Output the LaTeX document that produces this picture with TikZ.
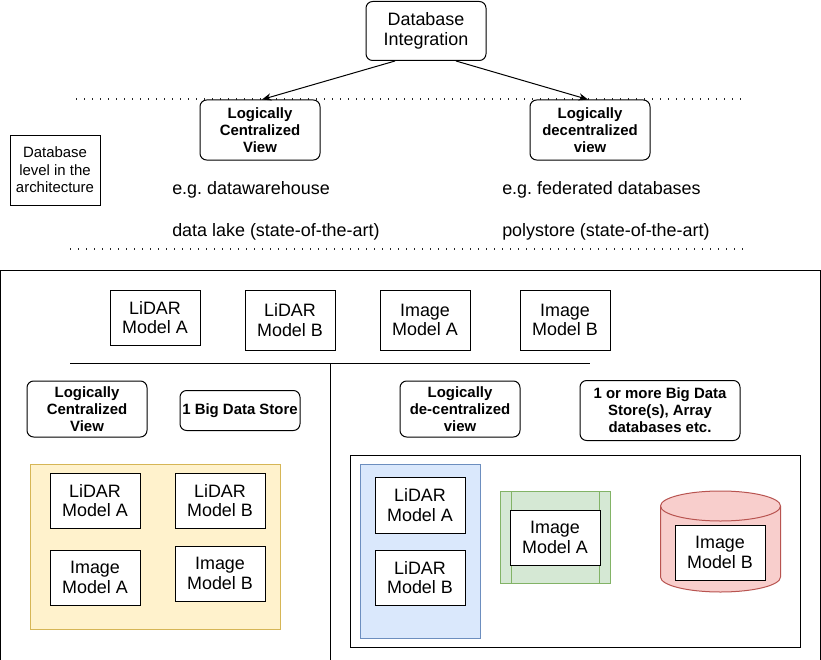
\documentclass[tikz,border=0pt]{standalone}
\usepackage{fontspec}
\setmainfont{Liberation Sans}
\usetikzlibrary{arrows.meta,calc}
\frenchspacing
\definecolor{yelfill}{HTML}{FFF2CC}
\definecolor{yeldraw}{HTML}{D6B656}
\definecolor{bluefill}{HTML}{DAE8FC}
\definecolor{bluedraw}{HTML}{6C8EBF}
\definecolor{grnfill}{HTML}{D5E8D4}
\definecolor{grndraw}{HTML}{82B366}
\definecolor{redfill}{HTML}{F8CECC}
\definecolor{reddraw}{HTML}{B85450}
\newcommand\txtbig{\fontsize{13.45pt}{14.8pt}\selectfont}
\newcommand\txtbold{\fontsize{11.2pt}{12.7pt}\selectfont\bfseries}
\newcommand\txtsmall{\fontsize{11.2pt}{13.1pt}\selectfont}
\begin{document}
\begin{tikzpicture}[x=0.75pt,y=-0.75pt,
  lw/.style={line width=0.75pt},
  box/.style 2 args={draw, lw, fill=white, inner sep=0pt, align=center,
    minimum width=#1*0.75pt, minimum height=#2*0.75pt, font=\txtbig},
  rbox/.style 2 args={box={#1}{#2}, rounded corners=5pt, font=\txtbold},
  plain/.style={inner sep=0pt, anchor=west, font=\txtbig},
  dots/.style={line width=1.1pt, dash pattern=on 1.1pt off 4.9pt, black!85},
  arr/.style={lw, -{Stealth[length=7pt,width=5.5pt]}}]
\useasboundingbox (0,0) rectangle (821,660);

% top section
\node[rbox={120}{59}, font=\txtbig] (dbi) at (426,31) {Database\\Integration};
\draw[dots] (76,99) -- (744,99);
\node[rbox={120}{60}] (lcv) at (260,130) {Logically\\Centralized\\View};
\node[rbox={120}{60}] (ldv) at (590,130) {Logically\\decentralized\\view};
\draw[arr] ([xshift=-31*0.75pt]dbi.south) -- ([xshift=2*0.75pt]lcv.north);
\draw[arr] ([xshift=30*0.75pt]dbi.south) -- ([xshift=-2*0.75pt]ldv.north);
\node[box={90}{70}, font=\txtsmall] (dbl) at (55,170) {Database\\level in the\\architecture};
\node[plain] (t1) at (172,189.5) {e.g. datawarehouse};
\node[plain] (t2) at (172,231.5) {data lake (state-of-the-art)};
\node[plain] (t3) at (502,189.5) {e.g. federated databases};
\node[plain] (t4) at (502,231.5) {polystore (state-of-the-art)};
\draw[dots] (70,249) -- (746,249);

% outer frame
\draw[lw] (0.5,670) -- (0.5,270.5) -- (820.5,270.5) -- (820.5,670);

% top row of models
\node[box={90}{55}] (la) at (155,317.5) {LiDAR\\Model A};
\node[box={90}{60}] (lb) at (290,320) {LiDAR\\Model B};
\node[box={90}{60}] (ia) at (425,320) {Image\\Model A};
\node[box={90}{60}] (ib) at (565,320) {Image\\Model B};

\draw[lw] (70,363.5) -- (590,363.5);
\draw[lw] (330.5,363.5) -- (330.5,670);

% left half
\node[rbox={120}{56}] (lcv2) at (87,409) {Logically\\Centralized\\View};
\node[rbox={120}{40}] (bds) at (240,410.5) {1 Big Data Store};
\node[box={250}{165}, draw=yeldraw, fill=yelfill] (yel) at (155.5,546.5) {};
\node[box={90}{55}] (yla) at (95,500.5) {LiDAR\\Model A};
\node[box={90}{55}] (ylb) at (220,500.5) {LiDAR\\Model B};
\node[box={90}{55}] (yia) at (95,577.5) {Image\\Model A};
\node[box={90}{55}] (yib) at (220,573.5) {Image\\Model B};

% right half
\node[rbox={120}{56}] (ldv2) at (460,409) {Logically\\de-centralized\\view};
\node[rbox={160}{60}] (mbds) at (660,410.5) {1 or more Big Data\\Store(s), Array\\databases etc.};
\node[box={450}{192}] (rc) at (575.5,551) {};
\node[box={120}{174}, draw=bluedraw, fill=bluefill] (blu) at (420.5,551) {};
\node[box={90}{56}] (bla) at (420,505) {LiDAR\\Model A};
\node[box={90}{55}] (blb) at (420,577.5) {LiDAR\\Model B};

\node[box={110}{92}, draw=grndraw, fill=grnfill] (grn) at (555.5,537) {};
\draw[lw, grndraw] (511.5,491) -- (511.5,583);
\draw[lw, grndraw] (599.5,491) -- (599.5,583);
\node[box={90}{55}] (gia) at (555,537.5) {Image\\Model A};

\path[lw, draw=reddraw, fill=redfill] (660.5,506) -- (660.5,577)
  arc[start angle=180, end angle=360, x radius=45pt, y radius=11.25pt]
  -- (780.5,506)
  arc[start angle=0, end angle=180, x radius=45pt, y radius=11.25pt] -- cycle;
\draw[lw, reddraw] (660.5,506)
  arc[start angle=180, end angle=360, x radius=45pt, y radius=11.25pt];
\node[box={90}{55}] (cib) at (720,552.5) {Image\\Model B};
\end{tikzpicture}
\end{document}
